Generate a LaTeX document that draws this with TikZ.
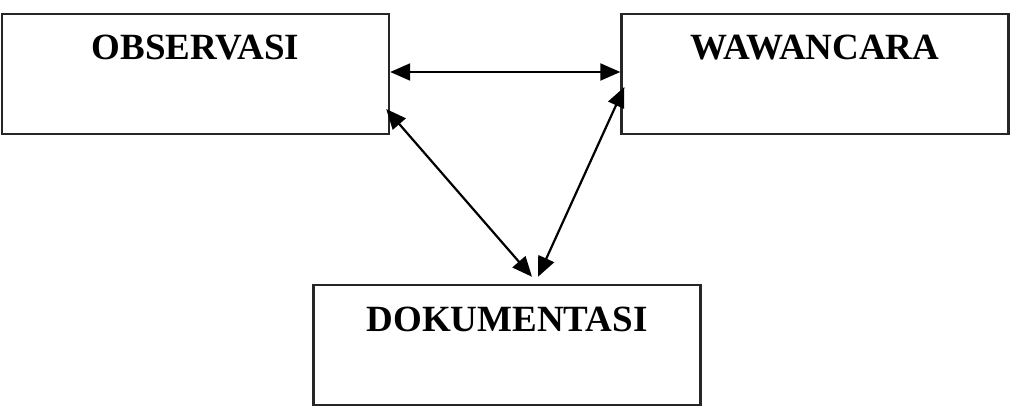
\documentclass[tikz,border=0pt]{standalone}
\usepackage{fontspec}
\setmainfont{Liberation Serif}
\usepackage{tikz}
\usetikzlibrary{arrows, arrows.meta}
\tikzset{kotak/.style = {shape = rectangle, draw = black!85, line width = 2.4pt, minimum width = 387pt, minimum height = 120pt, text height = 26pt, text depth = 54pt, font = \fontsize{37}{40}\selectfont\bfseries}}
\tikzset{panah/.style = {line width = 2.2pt, {Triangle[length = 20pt, width = 17pt]}-{Triangle[length = 20pt, width = 17pt]}}}

\begin{document}
\begin{tikzpicture}[x = 1pt, y = -1pt]
				\useasboundingbox (0, 0) rectangle (1015, 406);
				\node[kotak] (obs) at (195.5, 74) {OBSERVASI};
				\node[kotak] (waw) at (815, 74) {WAWANCARA};
				\node[kotak] (dok) at (507, 345) {DOKUMENTASI};

				\draw[panah] ([yshift = 2pt]obs.east) to ([yshift = 2pt]waw.west);
				\draw[panah] ([xshift = -4pt, yshift = -35pt]obs.east) to ([xshift = 25pt, yshift = 7pt]dok.north);
				\draw[panah] ([xshift = 31pt, yshift = 7pt]dok.north) to ([xshift = 4pt, yshift = -13pt]waw.west);
			\end{tikzpicture}
\end{document}
